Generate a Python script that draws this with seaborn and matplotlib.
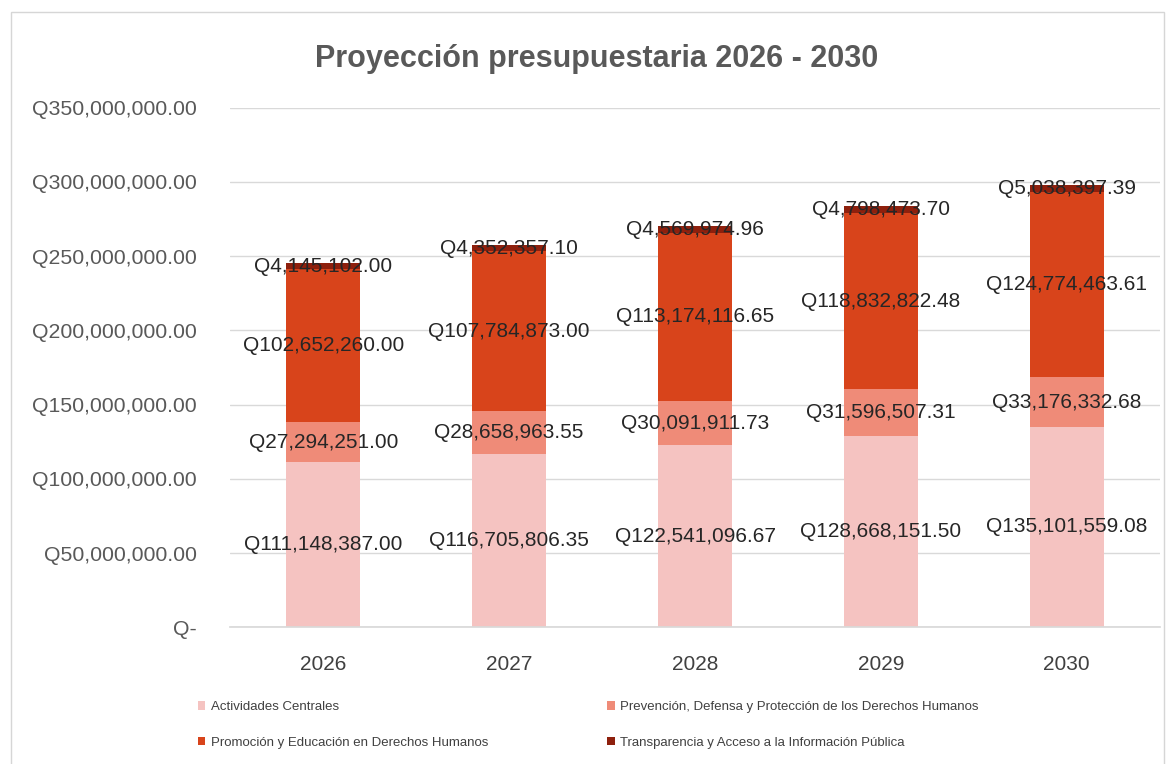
import matplotlib
matplotlib.use("Agg")
import matplotlib.pyplot as plt
import matplotlib.patches as mpatches
import seaborn as sns
import numpy as np
import pandas as pd

years = ["2026", "2027", "2028", "2029", "2030"]
series_names = [
    "Actividades Centrales",
    "Prevención, Defensa y Protección de los Derechos Humanos",
    "Promoción y Educación en Derechos Humanos",
    "Transparencia y Acceso a la Información Pública",
]
actividades = [111148387.00, 116705806.35, 122541096.67, 128668151.50, 135101559.08]
prevencion = [27294251.00, 28658963.55, 30091911.73, 31596507.31, 33176332.68]
promocion = [102652260.00, 107784873.00, 113174116.65, 118832822.48, 124774463.61]
transparencia = [4145102.00, 4352357.10, 4569974.96, 4798473.70, 5038397.39]
colors = ["#f5c3c1", "#ef8b78", "#d8441b", "#8e200d"]

sns.set_theme(style="white")
plt.rcParams["font.family"] = ["Liberation Sans", "DejaVu Sans"]

fig = plt.figure(figsize=(11.75, 7.64), dpi=100)
ax = fig.add_axes([0.196, 0.179, 0.791, 0.680])

# marco del gráfico
fig.patches.append(mpatches.Rectangle((0.009, -0.05), 0.982, 1.034, transform=fig.transFigure,
                                      fill=False, edgecolor="#d6d6d6", linewidth=1))

bottom = np.zeros(len(years))
for name, vals, col in zip(series_names, [actividades, prevencion, promocion, transparencia], colors):
    df = pd.DataFrame({"year": years, "value": vals})
    sns.barplot(data=df, x="year", y="value", color=col, width=0.4, bottom=bottom,
                saturation=1, ax=ax, label=name, errorbar=None, linewidth=0)
    for i, v in enumerate(vals):
        ax.text(i, bottom[i] + v / 2, f"Q{v:,.2f}", ha="center", va="center",
                fontsize=15, color="#262626")
    bottom = bottom + np.array(vals)

ax.set_ylim(0, 350000000)
ax.set_xlim(-0.5, 4.5)
ax.set_yticks(np.arange(0, 350000001, 50000000))
ax.set_yticklabels(["Q-"] + [f"Q{t:,.2f}" for t in np.arange(50000000, 350000001, 50000000)])
ax.yaxis.grid(True, color="#d9d9d9", linewidth=1)
ax.set_axisbelow(True)
for s in ["top", "right", "left"]:
    ax.spines[s].set_visible(False)
ax.spines["bottom"].set_color("#d9d9d9")
ax.tick_params(axis="y", labelsize=15.3, labelcolor="#595959", length=0, pad=24)
ax.tick_params(axis="x", labelsize=15, labelcolor="#404040", length=0, pad=20)
ax.set_xlabel("")
ax.set_ylabel("")

fig.suptitle("Proyección presupuestaria 2026 - 2030", x=0.508, y=0.942, fontsize=22,
             fontweight="bold", color="#595959")

handles, labels = ax.get_legend_handles_labels()
ax.legend_.remove()
order = [0, 2, 1, 3]
fig.legend([handles[i] for i in order], [labels[i] for i in order], ncol=2,
           loc="upper left", bbox_to_anchor=(0.158, 0.098), frameon=False,
           fontsize=9.5, labelcolor="#404040", handlelength=0.6, handleheight=0.6,
           handletextpad=0.4, columnspacing=9, labelspacing=1.8)

fig.savefig("out.png", dpi=100)
